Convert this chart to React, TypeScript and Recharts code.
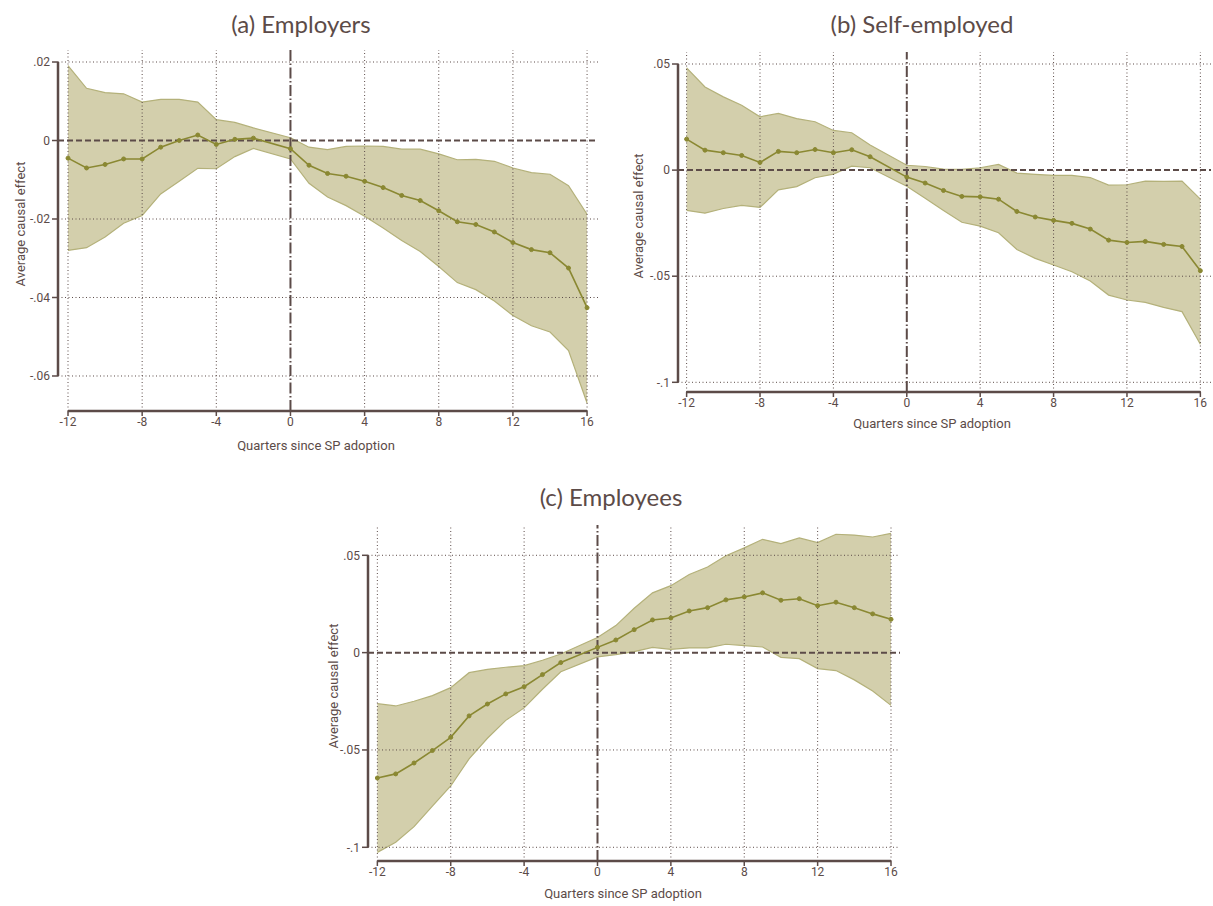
import React from "react";
import {
  ComposedChart,
  Area,
  Line,
  XAxis,
  YAxis,
  ReferenceLine,
} from "recharts";

// quarter -1 is the reference period and is not estimated
const quarters = [-12, -11, -10, -9, -8, -7, -6, -5, -4, -3, -2, 0, 1, 2, 3, 4, 5, 6, 7, 8, 9, 10, 11, 12, 13, 14, 15, 16];
const xTicks = [-12, -8, -4, 0, 4, 8, 12, 16];

// (a) Employers
const aCoef = [-0.0045, -0.007, -0.0061, -0.0047, -0.0047, -0.0017, 0.0, 0.0014, -0.001, 0.0003, 0.0006, -0.0021, -0.0063, -0.0084, -0.0091, -0.0104, -0.012, -0.014, -0.0153, -0.0179, -0.0207, -0.0214, -0.0233, -0.026, -0.0278, -0.0286, -0.0325, -0.0426];
const aHigh = [0.0191, 0.0133, 0.0122, 0.0119, 0.0098, 0.0105, 0.0105, 0.0098, 0.0053, 0.0046, 0.0032, 0.0007, -0.0017, -0.0023, -0.0015, -0.0014, -0.0015, -0.0022, -0.0022, -0.0034, -0.0049, -0.0048, -0.0053, -0.007, -0.0082, -0.0086, -0.0115, -0.0188];
const aLow = [-0.028, -0.0273, -0.0246, -0.0211, -0.0191, -0.0136, -0.0104, -0.0071, -0.0072, -0.0041, -0.002, -0.0047, -0.0109, -0.0144, -0.0166, -0.0193, -0.0223, -0.0255, -0.0283, -0.0321, -0.0362, -0.038, -0.0409, -0.0446, -0.0472, -0.0488, -0.0535, -0.0669];
const aTicks = [-0.06, -0.04, -0.02, 0, 0.02];

// (b) Self-employed
const bCoef = [0.0146, 0.0094, 0.0082, 0.0069, 0.0036, 0.0088, 0.0082, 0.0097, 0.0082, 0.0096, 0.0063, -0.0033, -0.0061, -0.0096, -0.0124, -0.0126, -0.0137, -0.0195, -0.0221, -0.0237, -0.0251, -0.0278, -0.033, -0.0341, -0.0336, -0.035, -0.036, -0.0474];
const bHigh = [0.0482, 0.0392, 0.0345, 0.0306, 0.0251, 0.0267, 0.0243, 0.0228, 0.0187, 0.0176, 0.0118, 0.0023, 0.0017, 0.0005, 0.0003, 0.0011, 0.0027, -0.0014, -0.002, -0.0025, -0.0025, -0.0035, -0.0071, -0.0069, -0.0052, -0.0053, -0.0052, -0.0137];
const bLow = [-0.019, -0.0203, -0.0181, -0.0166, -0.0176, -0.0093, -0.0078, -0.0036, -0.0019, 0.0019, 0.0011, -0.0076, -0.0133, -0.019, -0.0246, -0.0264, -0.0295, -0.0374, -0.0416, -0.0447, -0.0479, -0.0523, -0.0589, -0.0612, -0.0623, -0.0647, -0.0667, -0.0821];
const bTicks = [-0.1, -0.05, 0, 0.05];

// (c) Employees
const cCoef = [-0.0644, -0.0623, -0.0567, -0.0503, -0.0435, -0.0325, -0.0264, -0.0212, -0.0175, -0.0113, -0.0051, 0.0027, 0.0065, 0.0118, 0.0168, 0.0178, 0.0214, 0.0231, 0.0271, 0.0286, 0.0307, 0.0269, 0.0277, 0.0241, 0.0259, 0.0231, 0.0199, 0.0171];
const cHigh = [-0.0262, -0.0274, -0.025, -0.0221, -0.018, -0.0103, -0.0086, -0.0075, -0.0067, -0.0039, -0.0007, 0.0078, 0.0139, 0.0228, 0.0307, 0.0344, 0.0401, 0.044, 0.0498, 0.0538, 0.0582, 0.056, 0.0589, 0.0565, 0.0608, 0.0604, 0.0594, 0.0613];
const cLow = [-0.1026, -0.0974, -0.0894, -0.0788, -0.0685, -0.0546, -0.044, -0.0348, -0.0284, -0.0188, -0.0098, -0.0022, -0.001, 0.0005, 0.0027, 0.0017, 0.0024, 0.0024, 0.0043, 0.0036, 0.0029, -0.0024, -0.0031, -0.0082, -0.0092, -0.014, -0.0197, -0.0271];
const cTicks = [-0.1, -0.05, 0, 0.05];

const DARK = "#5c4b48";
const LINE = "#8a8832";
const BAND = "#d3cfac";
const BAND_EDGE = "#b4b17a";

const build = (coef: number[], lo: number[], hi: number[]) =>
  quarters.map((q, i) => ({ q, coef: coef[i], band: [lo[i], hi[i]] }));

const fmtY = (v: number) => (v === 0 ? "0" : String(v).replace("0.", "."));

type PanelProps = {
  title: string;
  data: { q: number; coef: number; band: number[] }[];
  yTicks: number[];
  xDomain: [number, number];
  yDomain: [number, number];
  left: number;
  top: number;
  width: number;
  height: number;
  margin: { top: number; right: number; bottom: number; left: number };
  titlePos: [number, number];
  yLabelPos: [number, number];
  xLabelPos: [number, number];
};

const Panel = (p: PanelProps) => {
  const yMin = p.yTicks[0];
  const yMax = p.yTicks[p.yTicks.length - 1];
  return (
    <>
      <div
        style={{
          position: "absolute",
          left: p.titlePos[0] - 200,
          top: p.titlePos[1] - 15,
          width: 400,
          height: 30,
          lineHeight: "30px",
          textAlign: "center",
          fontFamily: "Lato",
          fontSize: 24,
          color: DARK,
        }}
      >
        {p.title}
      </div>
      <div
        style={{
          position: "absolute",
          left: p.yLabelPos[0],
          top: p.yLabelPos[1],
          transform: "translate(-50%, -50%) rotate(-90deg)",
          whiteSpace: "nowrap",
          fontFamily: "Roboto",
          fontSize: 13,
          color: DARK,
        }}
      >
        Average causal effect
      </div>
      <div
        style={{
          position: "absolute",
          left: p.xLabelPos[0],
          top: p.xLabelPos[1],
          transform: "translate(-50%, -50%)",
          whiteSpace: "nowrap",
          fontFamily: "Roboto",
          fontSize: 13,
          color: DARK,
        }}
      >
        Quarters since SP adoption
      </div>
      <div style={{ position: "absolute", left: p.left, top: p.top }}>
        <ComposedChart width={p.width} height={p.height} data={p.data} margin={p.margin}>
          <XAxis
            dataKey="q"
            type="number"
            domain={p.xDomain}
            ticks={xTicks}
            allowDataOverflow
            axisLine={false}
            tickSize={5}
            tickMargin={1}
            height={25}
            stroke={DARK}
            tickLine={{ stroke: DARK, strokeWidth: 1.5 }}
            tick={{ fill: DARK, fontSize: 12, fontFamily: "Roboto" }}
          />
          <YAxis
            type="number"
            domain={p.yDomain}
            ticks={p.yTicks}
            allowDataOverflow
            axisLine={false}
            tickFormatter={fmtY}
            tickSize={6}
            tickMargin={2}
            width={58}
            stroke={DARK}
            tickLine={{ stroke: DARK, strokeWidth: 1.5 }}
            tick={{ fill: DARK, fontSize: 12, fontFamily: "Roboto" }}
          />
          <Area
            dataKey="band"
            type="linear"
            fill={BAND}
            fillOpacity={1}
            stroke={BAND_EDGE}
            strokeWidth={1.2}
            isAnimationActive={false}
          />
          {/* dotted grid on top of the band, as in the original */}
          {xTicks
            .filter((t) => t !== 0)
            .map((t) => (
              <ReferenceLine key={"gx" + t} x={t} stroke={DARK} strokeWidth={1} strokeDasharray="1 2.5" />
            ))}
          {p.yTicks
            .filter((t) => t !== 0)
            .map((t) => (
              <ReferenceLine key={"gy" + t} y={t} stroke={DARK} strokeWidth={1} strokeDasharray="1 2.5" />
            ))}
          <ReferenceLine y={0} stroke={DARK} strokeWidth={2} strokeDasharray="6 3" />
          <ReferenceLine x={0} stroke={DARK} strokeWidth={2} strokeDasharray="11 2.5 1.5 2.5" />
          <ReferenceLine
            segment={[
              { x: -12, y: p.yDomain[0] },
              { x: 16, y: p.yDomain[0] },
            ]}
            stroke={DARK}
            strokeWidth={2.5}
            ifOverflow="visible"
          />
          <ReferenceLine
            segment={[
              { x: p.xDomain[0], y: yMin },
              { x: p.xDomain[0], y: yMax },
            ]}
            stroke={DARK}
            strokeWidth={2.5}
            ifOverflow="visible"
          />
          <Line
            dataKey="coef"
            type="linear"
            stroke={LINE}
            strokeWidth={1.6}
            dot={{ r: 2, fill: LINE, stroke: LINE, strokeWidth: 1 }}
            isAnimationActive={false}
          />
        </ComposedChart>
      </div>
    </>
  );
};

export default function App() {
  return (
    <div
      style={{
        position: "absolute",
        left: 0,
        top: 0,
        width: 1213,
        height: 906,
        background: "#fff",
        overflow: "hidden",
      }}
    >
      <Panel
        title="(a) Employers"
        data={build(aCoef, aLow, aHigh)}
        yTicks={aTicks}
        xDomain={[-12.54, 16.59]}
        yDomain={[-0.06892, 0.02306]}
        left={0}
        top={0}
        width={610}
        height={440}
        margin={{ top: 50, right: 12, bottom: 4, left: 0 }}
        titlePos={[301, 24]}
        yLabelPos={[20, 224]}
        xLabelPos={[316, 445]}
      />
      <Panel
        title="(b) Self-employed"
        data={build(bCoef, bLow, bHigh)}
        yTicks={bTicks}
        xDomain={[-12.47, 16.58]}
        yDomain={[-0.10457, 0.05566]}
        left={620}
        top={0}
        width={593}
        height={420}
        margin={{ top: 52, right: 2, bottom: 3, left: 0 }}
        titlePos={[922, 24]}
        yLabelPos={[638, 216]}
        xLabelPos={[932, 423]}
      />
      <Panel
        title="(c) Employees"
        data={build(cCoef, cLow, cHigh)}
        yTicks={cTicks}
        xDomain={[-12.51, 16.49]}
        yDomain={[-0.10704, 0.06556]}
        left={310}
        top={470}
        width={600}
        height={436}
        margin={{ top: 55, right: 10, bottom: 20, left: 0 }}
        titlePos={[611, 497]}
        yLabelPos={[333, 686]}
        xLabelPos={[623, 893]}
      />
    </div>
  );
}
